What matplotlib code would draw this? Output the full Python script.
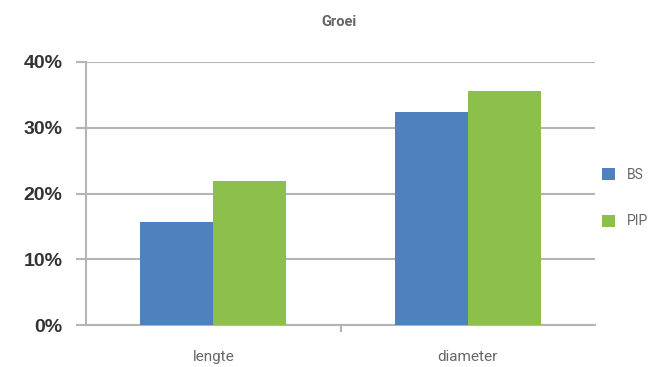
import numpy as np
import matplotlib
matplotlib.use("Agg")
import matplotlib.pyplot as plt
from matplotlib.ticker import PercentFormatter

categories = ["lengte", "diameter"]
series_names = ["BS", "PIP"]
bs_values = [15.7, 32.4]
pip_values = [21.9, 35.6]
y_ticks = [0, 10, 20, 30, 40]

blue = "#4f81bd"
green = "#8cc04b"
grid_gray = "#b4b4b4"

fig = plt.figure(figsize=(6.64, 3.67), dpi=100)
ax = fig.add_axes([86 / 664, 1 - 325 / 367, 509 / 664, 263 / 367])

x = np.arange(len(categories))
w = 0.287
ax.bar(x - w / 2, bs_values, width=w, color=blue, label=series_names[0], zorder=3)
ax.bar(x + w / 2, pip_values, width=w, color=green, label=series_names[1], zorder=3)

ax.set_xlim(-0.5, len(categories) - 0.5)
ax.set_ylim(0, 40)
ax.set_yticks(y_ticks)
ax.yaxis.set_major_formatter(PercentFormatter(decimals=0))
ax.grid(axis="y", color=grid_gray, linewidth=1.5, zorder=0)

for side in ["top", "right"]:
    ax.spines[side].set_visible(False)
for side in ["left", "bottom"]:
    ax.spines[side].set_color(grid_gray)
    ax.spines[side].set_linewidth(1.5)

ax.tick_params(axis="y", length=7, width=1.5, color=grid_gray, pad=10,
               labelsize=14, labelcolor="#333333")
for lab in ax.get_yticklabels():
    lab.set_family("Liberation Sans")
    lab.set_fontweight("bold")

# category labels centred, tick marks at the boundaries
ax.set_xticks(x)
ax.set_xticklabels(categories, fontsize=11, color="#666666", family="Roboto")
ax.tick_params(axis="x", length=0, pad=18)
ax.set_xticks([0.5], minor=True)
ax.tick_params(axis="x", which="minor", length=5, width=1.5, color=grid_gray)

fig.text(339 / 664, 1 - 22 / 367, "Groei", ha="center", va="center",
         fontsize=10.5, fontweight="bold", color="#666666", family="Roboto")

ax.legend(loc="center left", bbox_to_anchor=(602 / 664, 1 - 198 / 367),
          bbox_transform=fig.transFigure, frameon=False,
          borderpad=0, borderaxespad=0,
          handlelength=0.95, handleheight=0.95, handletextpad=0.85,
          labelspacing=2.35, prop={"family": "Roboto", "size": 10},
          labelcolor="#666666")

fig.savefig("out.png", dpi=100)
